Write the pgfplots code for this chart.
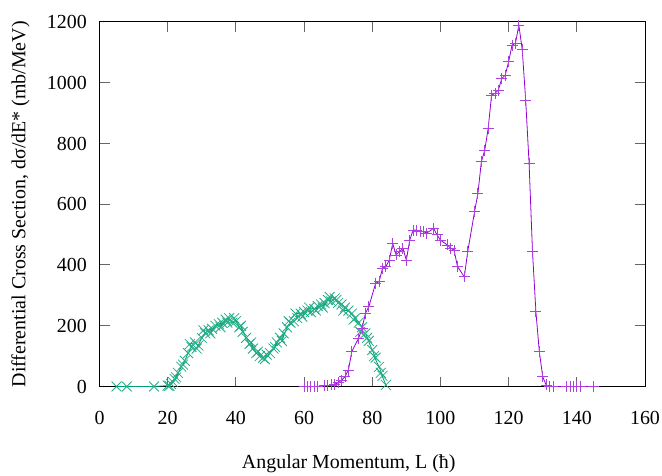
\documentclass[border=0pt]{standalone}
\usepackage{fontspec}
\setmainfont{Liberation Serif}
\usepackage{pgfplots}
\pgfplotsset{compat=1.18}
\definecolor{gpgreen}{HTML}{009E73}
\definecolor{gppurple}{HTML}{9400D3}
\begin{document}
\begin{tikzpicture}[font=\fontsize{20}{24}\selectfont]
\begin{axis}[
  name=ax,
  scale only axis,
  width=545.5bp, height=364.5bp,
  xmin=0, xmax=160, ymin=0, ymax=1200,
  xtick={0,20,...,160}, ytick={0,200,...,1200},
  minor tick num=0,
  tick align=inside,
  major tick length=10bp,
  tick style={black!60, line width=1bp},
  axis line style={black, line width=1bp},
  /pgf/number format/assume math mode=true,
  /pgf/number format/1000 sep={},
  xticklabel style={anchor=center, yshift=-31.5bp},
  yticklabel style={anchor=east, inner sep=0pt},
  yticklabel shift=12.5bp,
  xlabel={Angular Momentum, L (ħ)},
  ylabel={Differential Cross Section, dσ/dE* (mb/MeV)},
  xlabel style={at={(axis description cs:0.457,-0.212)}, anchor=center},
  ylabel style={at={(axis description cs:-0.145,0.5)}, anchor=center},
]
\addplot[color=gpgreen, line width=0.8bp, mark=x, mark size=7bp, mark options={line width=0.8bp, color=gpgreen!85!white}] coordinates {
(5,0) (8,0) (16,0) (20,3) (21,8) (20.5,2) (22,25) (21.5,15) (23,45) (22.5,30) (24,65) (25,85) (24.5,72) (26,110)
(27,130) (26.5,140) (28,145) (29,135) (28.5,125) (30,160) (31,175) (30.5,185) (32,185) (33,190) (32.5,175) (34,200) (35,205) (36,210)
(35.5,195) (37,220) (38,225) (37.5,210) (39,210) (40,215) (39.5,225) (41,195) (42,180) (41.5,200) (43,160) (44,140) (45,125) (44.5,145) (46,110)
(47,100) (46.5,115) (48,95) (49,105) (48.5,90) (50,110) (51,125) (52,145) (51.5,130) (53,160) (54,175) (53.5,150) (55,195) (56,210)
(55.5,215) (57,215) (58,225) (57.5,240) (59,240) (60,245) (59.5,230) (61,250) (62,245) (61.5,260) (63,255) (64,265) (63.5,250) (65,270) (66,275)
(65.5,260) (67,285) (68,280) (67.5,295) (69,290) (70,275) (69.5,285) (71,270) (72,260) (71.5,250) (73,250) (74,240) (75,225) (74.5,220) (76,210)
(77,195) (76.5,180) (78,175) (79,150) (78.5,160) (80,120) (81,95) (80.5,100) (82,65) (83,35) (82.5,45) (84,5)
};
\addplot[color=gppurple, line width=0.8bp, mark=+, mark size=5.5bp, mark options={line width=0.9bp, color=gppurple!75!white}] coordinates {
(60,0) (61,0) (62,0) (63,0) (64,0) (66,2) (67,3) (68,5) (69,8) (70,12)
(71,21) (72,32) (73,54) (74,115) (76,159) (77,191) (78,241) (79,263) (81,340) (82,345)
(83,389) (84,395) (85,416) (86,471) (87,433) (88,444) (89,455) (90,416) (91,482) (92,515)
(93,515) (94,510) (95,510) (96,505) (98,521) (99,499) (100,482) (102,466) (103,455) (104,449)
(105,395) (107,361) (108,444) (110,575) (111,636) (112,740) (113,778) (114,850) (115,959) (116,965)
(117,976) (118,1014) (119,1025) (120,1069) (121,1124) (122,1130) (123,1190) (124,1108) (125,943) (126,735)
(127,444) (128,246) (129,115) (130,32) (131,5) (132,0) (133,0) (137,0) (138,0) (139,0)
(140,0) (141,0) (145,0)
};
\end{axis}
\pgfresetboundingbox
\path ([xshift=-99.5bp,yshift=-89.5bp]ax.south west) rectangle ([xshift=17bp,yshift=22bp]ax.north east);
\end{tikzpicture}
\end{document}
